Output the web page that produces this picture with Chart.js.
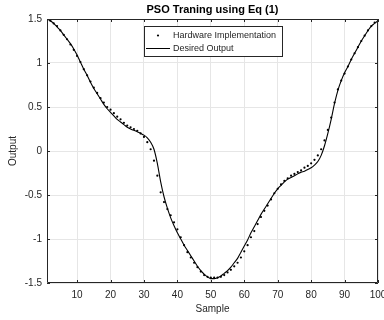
<!DOCTYPE html>
<html>
<head>
<meta charset="utf-8">
<script src="https://cdn.jsdelivr.net/npm/chart.js@4"></script>
<style>
  html, body { margin: 0; padding: 0; background: #fff; }
  #wrap { width: 384px; height: 320px; }
</style>
</head>
<body>
<div id="wrap"><canvas id="psoChart" width="384" height="320"></canvas></div>
<script>
const TITLE = "PSO Traning using Eq (1)";
const X_LABEL = "Sample";
const Y_LABEL = "Output";
const SERIES_NAMES = ["Hardware Implementation", "Desired Output"];

const xTicks = [10, 20, 30, 40, 50, 60, 70, 80, 90, 100];
const yTicks = [-1.5, -1, -0.5, 0, 0.5, 1, 1.5];

const desired = [
    1.50, 1.48, 1.45, 1.41, 1.37, 1.32, 1.27, 1.22, 1.16, 1.09,
    1.01, 0.93, 0.86, 0.78, 0.71, 0.65, 0.59, 0.53, 0.48, 0.44,
    0.40, 0.36, 0.33, 0.30, 0.27, 0.25, 0.235, 0.22, 0.20, 0.18,
    0.15, 0.10, 0.02, -0.14, -0.35, -0.52, -0.65, -0.76, -0.85, -0.93,
    -1.00, -1.07, -1.13, -1.19, -1.25, -1.31, -1.36, -1.40, -1.43, -1.45,
    -1.45, -1.44, -1.42, -1.39, -1.36, -1.32, -1.27, -1.22, -1.15, -1.08,
    -1.01, -0.93, -0.86, -0.79, -0.72, -0.66, -0.60, -0.54, -0.48, -0.43,
    -0.39, -0.35, -0.32, -0.30, -0.28, -0.26, -0.24, -0.23, -0.21, -0.19,
    -0.16, -0.12, -0.05, 0.06, 0.20, 0.36, 0.54, 0.69, 0.80, 0.89,
    0.96, 1.04, 1.11, 1.18, 1.25, 1.31, 1.37, 1.42, 1.45, 1.48
];

const hardware = [
    1.50, 1.48, 1.45, 1.42, 1.37, 1.32, 1.27, 1.21, 1.15, 1.08,
    1.01, 0.93, 0.86, 0.79, 0.72, 0.66, 0.60, 0.55, 0.50, 0.47,
    0.43, 0.39, 0.36, 0.32, 0.29, 0.27, 0.25, 0.23, 0.20, 0.16,
    0.10, 0.02, -0.11, -0.28, -0.47, -0.58, -0.66, -0.73, -0.81, -0.89,
    -0.98, -1.07, -1.15, -1.21, -1.27, -1.32, -1.37, -1.41, -1.43, -1.44,
    -1.44, -1.44, -1.43, -1.41, -1.38, -1.35, -1.31, -1.27, -1.21, -1.14,
    -1.07, -0.98, -0.91, -0.83, -0.75, -0.68, -0.62, -0.55, -0.48, -0.43,
    -0.38, -0.34, -0.31, -0.28, -0.26, -0.24, -0.22, -0.19, -0.17, -0.14,
    -0.10, -0.05, 0.02, 0.12, 0.24, 0.38, 0.55, 0.70, 0.80, 0.88,
    0.96, 1.04, 1.11, 1.18, 1.25, 1.31, 1.37, 1.42, 1.46, 1.48
];

const samples = desired.map((_, i) => i + 1);

const FONT = "'Liberation Sans', Arial, Helvetica, sans-serif";
const AXIS_COLOR = "#262626";
const GRID_COLOR = "#e6e6e6";

// box, inward ticks, title, axis labels and legend, MATLAB style
const matlabFrame = {
    id: "matlabFrame",
    afterDatasetsDraw(chart) {
        const { ctx, chartArea: a, scales } = chart;
        ctx.save();
        ctx.strokeStyle = AXIS_COLOR;
        ctx.lineWidth = 1;
        ctx.beginPath();
        ctx.rect(a.left + 0.5, a.top + 0.5, a.right - a.left - 1, a.bottom - a.top - 1);
        ctx.stroke();

        ctx.beginPath();
        scales.x.ticks.forEach(t => {
            const px = Math.round(scales.x.getPixelForValue(t.value)) + 0.5;
            ctx.moveTo(px, a.bottom); ctx.lineTo(px, a.bottom - 3);
            ctx.moveTo(px, a.top); ctx.lineTo(px, a.top + 3);
        });
        scales.y.ticks.forEach(t => {
            const py = Math.round(scales.y.getPixelForValue(t.value)) + 0.5;
            ctx.moveTo(a.left, py); ctx.lineTo(a.left + 3, py);
            ctx.moveTo(a.right, py); ctx.lineTo(a.right - 3, py);
        });
        ctx.stroke();

        // title
        ctx.fillStyle = "#000";
        ctx.font = "bold 11px " + FONT;
        ctx.textAlign = "center";
        ctx.textBaseline = "middle";
        ctx.fillText(TITLE, (a.left + a.right) / 2, 10);

        // axis labels
        ctx.fillStyle = AXIS_COLOR;
        ctx.font = "10px " + FONT;
        ctx.fillText(X_LABEL, (a.left + a.right) / 2, 309);
        ctx.save();
        ctx.translate(13, (a.top + a.bottom) / 2);
        ctx.rotate(-Math.PI / 2);
        ctx.fillText(Y_LABEL, 0, 0);
        ctx.restore();

        // legend
        const lx = 144, ly = 26, lw = 138, lh = 30;
        ctx.fillStyle = "#fff";
        ctx.fillRect(lx, ly, lw, lh);
        ctx.strokeStyle = AXIS_COLOR;
        ctx.strokeRect(lx + 0.5, ly + 0.5, lw, lh);
        ctx.fillStyle = "#000";
        ctx.beginPath();
        ctx.arc(158, 35.5, 1.1, 0, Math.PI * 2);
        ctx.fill();
        ctx.beginPath();
        ctx.moveTo(146, 48.5); ctx.lineTo(170, 48.5);
        ctx.strokeStyle = "#000";
        ctx.stroke();
        ctx.textAlign = "left";
        ctx.font = "9px " + FONT;
        ctx.fillStyle = AXIS_COLOR;
        ctx.fillText(SERIES_NAMES[0], 173, 36);
        ctx.fillText(SERIES_NAMES[1], 173, 49);
        ctx.restore();
    }
};

new Chart(document.getElementById("psoChart").getContext("2d"), {
    type: "line",
    data: {
        labels: samples,
        datasets: [{
            label: SERIES_NAMES[0],
            data: samples.map((x, i) => ({ x, y: hardware[i] })),
            showLine: false,
            pointRadius: 1.1,
            pointBackgroundColor: "#000",
            pointBorderWidth: 0,
            borderColor: "#000"
        }, {
            label: SERIES_NAMES[1],
            data: samples.map((x, i) => ({ x, y: desired[i] })),
            borderColor: "#000",
            borderWidth: 1.1,
            pointRadius: 0,
            cubicInterpolationMode: "monotone"
        }]
    },
    options: {
        responsive: false,
        animation: false,
        layout: { padding: { top: 19, right: 6, left: 0, bottom: 0 } },
        plugins: {
            legend: { display: false },
            title: { display: false },
            tooltip: { enabled: false }
        },
        scales: {
            x: {
                type: "linear",
                min: 1,
                max: 100,
                afterBuildTicks: s => { s.ticks = xTicks.map(v => ({ value: v })); },
                afterFit: s => { s.height = 37; s.paddingLeft = 0; s.paddingRight = 0; },
                grid: { color: GRID_COLOR, drawTicks: false },
                border: { display: false },
                ticks: {
                    color: AXIS_COLOR,
                    font: { family: FONT, size: 10 },
                    padding: 6,
                    maxRotation: 0,
                    autoSkip: false,
                    callback: v => String(v)
                }
            },
            y: {
                min: -1.5,
                max: 1.5,
                afterBuildTicks: s => { s.ticks = yTicks.map(v => ({ value: v })); },
                afterFit: s => { s.width = 47; s.paddingTop = 0; s.paddingBottom = 0; },
                grid: { color: GRID_COLOR, drawTicks: false },
                border: { display: false },
                ticks: {
                    color: AXIS_COLOR,
                    font: { family: FONT, size: 10 },
                    padding: 5,
                    autoSkip: false,
                    callback: v => String(v)
                }
            }
        }
    },
    plugins: [matlabFrame]
});
</script>
</body>
</html>
